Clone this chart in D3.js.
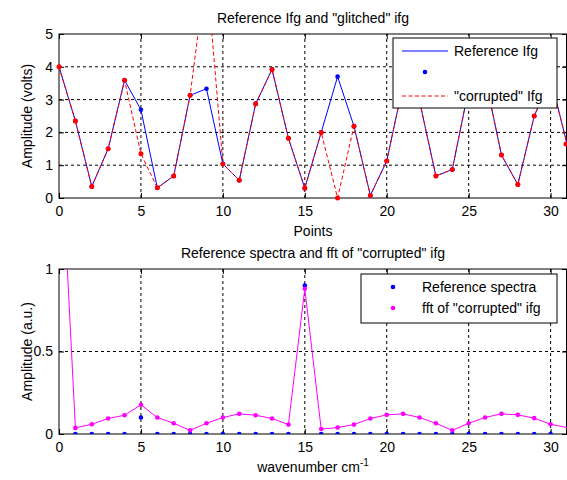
<!DOCTYPE html>
<html>
<head>
<meta charset="utf-8">
<script src="https://cdn.jsdelivr.net/npm/d3@7"></script>
<style>
  body { margin: 0; background: #fff; }
  text { font-family: "Liberation Sans", Arial, sans-serif; font-size: 14px; fill: #000; }
</style>
</head>
<body>
<svg id="chart" width="567" height="480"></svg>
<script>
// top panel: interferograms
const points = [0, 1, 2, 3, 4, 5, 6, 7, 8, 9, 10, 11, 12, 13, 14, 15, 16, 17, 18, 19, 20, 21, 22, 23, 24, 25, 26, 27, 28, 29, 30, 31]
const refIfg = [4.00, 2.35, 0.35, 1.50, 3.59, 2.69, 0.31, 0.67, 3.13, 3.33, 1.04, 0.54, 2.87, 3.92, 1.82, 0.30,
  2.00, 3.70, 2.19, 0.08, 1.13, 3.46, 2.96, 0.67, 0.87, 3.33, 3.69, 1.31, 0.41, 2.50, 3.65, 1.65]
const badIfg = [4.00, 2.35, 0.35, 1.50, 3.59, 1.35, 0.31, 0.67, 3.13, 7.00, 1.04, 0.54, 2.87, 3.92, 1.82, 0.30,
  2.00, 0.00, 2.19, 0.08, 1.13, 3.46, 2.96, 0.67, 0.87, 3.33, 3.69, 1.31, 0.41, 2.50, 3.65, 1.65]

// bottom panel: spectra
const specX = [1, 2, 3, 4, 5, 6, 7, 8, 9, 10, 11, 12, 13, 14, 15, 16, 17, 18, 19, 20, 21, 22, 23, 24, 25, 26, 27, 28, 29, 30]
const refSpec = [0, 0, 0, 0, 0.1, 0, 0, 0, 0, 0, 0, 0, 0, 0, 0.9, 0, 0, 0, 0, 0, 0, 0, 0, 0, 0, 0, 0, 0, 0, 0]
const fftX = points
const fftBad = [2.0, 0.037, 0.059, 0.094, 0.114, 0.177, 0.10, 0.065, 0.022, 0.065, 0.10, 0.122, 0.114, 0.094, 0.057, 0.88,
  0.030, 0.039, 0.057, 0.094, 0.116, 0.122, 0.10, 0.065, 0.022, 0.065, 0.10, 0.122, 0.116, 0.096, 0.059, 0.039]

const xTicks = [0, 5, 10, 15, 20, 25, 30]
const topYTicks = [0, 1, 2, 3, 4, 5]
const botYTicks = [0, 0.5, 1]

const svg = d3.select("#chart")
const x = d3.scaleLinear().domain([0, 31]).range([59, 567])
const yTop = d3.scaleLinear().domain([0, 5]).range([198, 34])
const yBot = d3.scaleLinear().domain([0, 1]).range([434, 269])
const dotR = 2.3

function panel(id, y, yTicks, fmt, title, xlab, ylab) {
  const [x0, x1] = x.range()
  const [y0, y1] = y.range()
  const g = svg.append("g")

  svg.append("clipPath").attr("id", id)
    .append("rect").attr("x", x0).attr("y", y1).attr("width", x1 - x0).attr("height", y0 - y1)

  // dashed grid
  g.selectAll(".gx").data(xTicks.filter(d => d > 0)).enter().append("line")
    .attr("x1", d => x(d)).attr("x2", d => x(d)).attr("y1", y0).attr("y2", y1)
    .attr("stroke", "#000").attr("stroke-dasharray", "3,3")
  g.selectAll(".gy").data(yTicks.filter(d => y(d) > y1 + 1 && y(d) < y0 - 1)).enter().append("line")
    .attr("y1", d => y(d)).attr("y2", d => y(d)).attr("x1", x0).attr("x2", x1)
    .attr("stroke", "#000").attr("stroke-dasharray", "3,3")

  const ax = (a, t) => a.tickSizeInner(-5).tickSizeOuter(0).tickPadding(t)
  g.append("g").attr("transform", "translate(0," + y0 + ")")
    .call(ax(d3.axisBottom(x), 8).tickValues(xTicks))
  g.append("g").attr("transform", "translate(" + x0 + ",0)")
    .call(ax(d3.axisLeft(y), 6).tickValues(yTicks).tickFormat(fmt))
  g.append("g").attr("transform", "translate(0," + y1 + ")")
    .call(ax(d3.axisTop(x), 0).tickValues(xTicks).tickFormat(""))
  g.append("g").attr("transform", "translate(" + x1 + ",0)")
    .call(ax(d3.axisRight(y), 0).tickValues(yTicks).tickFormat(""))
  g.selectAll(".domain").remove()
  g.selectAll(".tick line").attr("stroke", "#000")
  g.selectAll(".tick text").style("font-size", "14px").attr("fill", "#000")

  g.append("rect").attr("x", x0).attr("y", y1).attr("width", x1 - x0 - 0.5).attr("height", y0 - y1)
    .attr("fill", "none").attr("stroke", "#000")

  const cx = (x0 + x1) / 2
  g.append("text").attr("x", cx).attr("y", y1 - 11).attr("text-anchor", "middle").text(title)
  const xl = g.append("text").attr("x", cx).attr("y", y0 + 38).attr("text-anchor", "middle").text(xlab[0])
  if (xlab[1]) xl.append("tspan").attr("dy", -6).style("font-size", "10px").text(xlab[1])
  g.append("text").attr("transform", "translate(32," + (y0 + y1) / 2 + ") rotate(-90)")
    .attr("text-anchor", "middle").text(ylab)
  return g
}

const topPanel = panel("clipTop", yTop, topYTicks, d3.format("d"),
  "Reference Ifg and \"glitched\" ifg", ["Points"], "Amplitude (volts)")
const botPanel = panel("clipBot", yBot, botYTicks, d => d === 0.5 ? "0.5" : d3.format("d")(d),
  "Reference spectra and fft of \"corrupted\" ifg", ["wavenumber cm", "-1"], "Amplitude (a.u.)")

// top series
const lineTop = d3.line().x((d, i) => x(points[i])).y(d => yTop(d))
const tp = topPanel.append("g").attr("clip-path", "url(#clipTop)")
tp.append("path").datum(refIfg).attr("d", lineTop).attr("fill", "none").attr("stroke", "#0000ff")
tp.selectAll(".rd").data(refIfg).enter().append("circle")
  .attr("cx", (d, i) => x(points[i])).attr("cy", d => yTop(d)).attr("r", dotR).attr("fill", "#0000ff")
tp.append("path").datum(badIfg).attr("d", lineTop).attr("fill", "none").attr("stroke", "#ff0000")
  .attr("stroke-dasharray", "4,2.5")
const tpDots = topPanel.append("g")
tpDots.selectAll(".bd").data(badIfg.map((d, i) => [points[i], d]).filter(p => p[1] <= 5)).enter().append("circle")
  .attr("cx", p => Math.min(x(p[0]), 566)).attr("cy", p => yTop(p[1])).attr("r", dotR + 0.2).attr("fill", "#ff0000")

// bottom series
const bp = botPanel.append("g").attr("clip-path", "url(#clipBot)")
bp.selectAll(".sd").data(refSpec).enter().append("circle")
  .attr("cx", (d, i) => x(specX[i])).attr("cy", d => yBot(d)).attr("r", dotR).attr("fill", "#0000ff")
bp.append("path").datum(fftBad).attr("d", d3.line().x((d, i) => x(fftX[i])).y(d => yBot(d)))
  .attr("fill", "none").attr("stroke", "#ff00ff")
bp.selectAll(".fd").data(fftBad.slice(0, 31)).enter().append("circle")
  .attr("cx", (d, i) => x(fftX[i])).attr("cy", d => yBot(d)).attr("r", dotR).attr("fill", "#ff00ff")

// legends
const lg1 = svg.append("g")
lg1.append("rect").attr("x", 393).attr("y", 38).attr("width", 164).attr("height", 70)
  .attr("fill", "#fff").attr("stroke", "#000")
lg1.append("line").attr("x1", 402).attr("x2", 448).attr("y1", 51).attr("y2", 51).attr("stroke", "#0000ff")
lg1.append("text").attr("x", 454).attr("y", 56).text("Reference Ifg")
lg1.append("circle").attr("cx", 425).attr("cy", 72).attr("r", dotR).attr("fill", "#0000ff")
lg1.append("line").attr("x1", 402).attr("x2", 448).attr("y1", 96).attr("y2", 96).attr("stroke", "#ff0000")
  .attr("stroke-dasharray", "4,2.5")
lg1.append("text").attr("x", 454).attr("y", 101).text("\"corrupted\" Ifg")

const lg2 = svg.append("g")
lg2.append("rect").attr("x", 361).attr("y", 274).attr("width", 196).attr("height", 49)
  .attr("fill", "#fff").attr("stroke", "#000")
lg2.append("circle").attr("cx", 393).attr("cy", 287).attr("r", dotR).attr("fill", "#0000ff")
lg2.append("text").attr("x", 422).attr("y", 292).text("Reference spectra")
lg2.append("circle").attr("cx", 393).attr("cy", 308).attr("r", dotR).attr("fill", "#ff00ff")
lg2.append("text").attr("x", 422).attr("y", 313).text("fft of \"corrupted\" ifg")
</script>
</body>
</html>
